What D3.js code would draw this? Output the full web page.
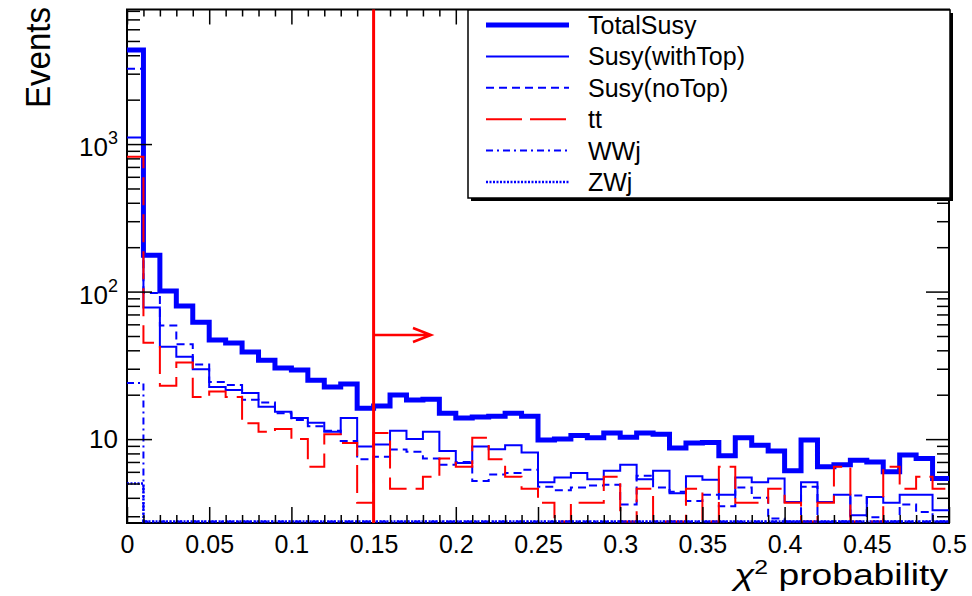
<!DOCTYPE html>
<html>
<head>
<meta charset="utf-8">
<script src="https://cdn.jsdelivr.net/npm/d3@7"></script>
<style>
  body { margin: 0; background: #fff; }
  svg { display: block; font-family: "Liberation Sans", Arial, Helvetica, sans-serif; }
</style>
</head>
<body>
<div id="chart"></div>
<script>
// binning of the chi2 probability histograms
const xMin = 0, xMax = 0.5, nBins = 50;
const yMin = 2.7, yMax = 8170;
const cutValue = 0.15;

const xMajorTicks = [0, 0.05, 0.1, 0.15, 0.2, 0.25, 0.3, 0.35, 0.4, 0.45, 0.5];
const xTickLabels = ["0", "0.05", "0.1", "0.15", "0.2", "0.25", "0.3", "0.35", "0.4", "0.45", "0.5"];
const yMajorTicks = [10, 100, 1000];
const yTickLabels = [["10", ""], ["10", "2"], ["10", "3"]];

const seriesNames = ["TotalSusy", "Susy(withTop)", "Susy(noTop)", "tt", "WWj", "ZWj"];

const totalSusy = [4350, 176, 101, 80, 62, 47, 44.8, 39, 34.3, 30.3,
  29.4, 25.1, 22.6, 23.6, 16.2, 16.8, 19.9, 18.4, 18.6, 15,
  13.9, 14.1, 14.3, 15, 14.3, 9.85, 10, 10.6, 10.2, 11,
  10.3, 11, 10.8, 8.7, 9.4, 9.5, 7.7, 10.2, 9.1, 8.3,
  6.1, 9.85, 6.5, 6.7, 7.2, 7.0, 6.0, 7.8, 7.4, 5.4];

const susyWithTop = [1110, 78, 42.3, 36.1, 29.8, 22.6, 21.5, 20.5, 16.6, 15.3,
  13.9, 12.9, 11.2, 13.9, 8.9, 9.2, 11.4, 10, 11.2, 8.3,
  6.9, 8.9, 8.55, 9.1, 8.1, 5.1, 5.5, 5.9, 5.35, 6.1,
  6.7, 5.35, 6.1, 4.3, 5.6, 5.3, 4.2, 5.5, 5.1, 5.4,
  3.75, 5.1, 3.75, 4.2, 3.05, 4.05, 3.7, 4.2, 4.2, 3.3];

const susyNoTop = [3240, 98, 59, 44, 32, 24.4, 23.3, 18.5, 17.7, 15,
  13.5, 12.2, 11.4, 9.7, 7.3, 7.6, 8.5, 8.2, 7.4, 6.7,
  7.0, 5.2, 5.75, 5.9, 6.2, 4.75, 4.5, 4.7, 4.85, 4.9,
  3.6, 5.65, 4.7, 4.4, 3.8, 4.2, 3.5, 4.7, 4.0, 2.9,
  2.35, 4.75, 2.75, 2.5, 4.15, 2.95, 2.3, 3.6, 3.2, 2.1];

const ttbar = [820, 45, 23, 33, 19.3, 21, 19.3, 12.8, 11.2, 11.7,
  10, 6.5, 10.8, 9.4, 3.7, 11, 4.6, 4.6, 5.55, 7.4,
  6.5, 10.2, 7.3, 5.55, 4.6, 3.7, 1.85, 3.7, 3.7, 5.55,
  1.85, 4.6, 1.85, 1.85, 4.6, 1.85, 6.5, 3.7, 3.7, 4.6,
  3.7, 1.85, 3.7, 6.5, 1.85, 1.85, 6.5, 4.6, 5.55, 4.6];

const wwj = [24, 0, 0, 0, 0, 0, 0, 0, 0, 0,
  0, 0, 0, 0, 0, 0, 0, 0, 0, 0,
  0, 0, 0, 0, 0, 0, 0, 0, 0, 0,
  0, 0, 0, 0, 0, 0, 0, 0, 0, 0,
  0, 0, 0, 0, 0, 0, 0, 0, 0, 0];

const zwj = [5, 0, 0, 0, 0, 0, 0, 0, 0, 0,
  0, 0, 0, 0, 0, 0, 0, 0, 0, 0,
  0, 0, 0, 0, 0, 0, 0, 0, 0, 0,
  0, 0, 0, 0, 0, 0, 0, 0, 0, 0,
  0, 0, 0, 0, 0, 0, 0, 0, 0, 0];

const W = 972, H = 596;
const plotLeft = 127, plotRight = 949, plotTop = 9.5, plotBottom = 523;

const svg = d3.select("#chart").append("svg")
  .attr("width", W)
  .attr("height", H);

const x = d3.scaleLinear().domain([xMin, xMax]).range([plotLeft, plotRight]);
const y = d3.scaleLog().domain([yMin, yMax]).range([plotBottom, plotTop]);

// line styles, one per series
const series = [
  {name: seriesNames[0], values: totalSusy, color: "#0000ff", w: 5, dash: null},
  {name: seriesNames[1], values: susyWithTop, color: "#0000ff", w: 2, dash: null},
  {name: seriesNames[2], values: susyNoTop, color: "#0000ff", w: 2, dash: "8,5"},
  {name: seriesNames[3], values: ttbar, color: "#ff0000", w: 2, dash: "28,9"},
  {name: seriesNames[4], values: wwj, color: "#0000ff", w: 2, dash: "7,4,2,4"},
  {name: seriesNames[5], values: zwj, color: "#0000ff", w: 2.5, dash: "2,1.5"}
];

// frame first, histograms drawn over it (underflow sits on the bottom edge)
svg.append("rect")
  .attr("x", plotLeft).attr("y", plotTop)
  .attr("width", plotRight - plotLeft).attr("height", plotBottom - plotTop)
  .attr("fill", "none").attr("stroke", "#000").attr("stroke-width", 2);

svg.append("clipPath").attr("id", "plotclip")
  .append("rect")
  .attr("x", plotLeft).attr("y", plotTop)
  .attr("width", plotRight - plotLeft).attr("height", plotBottom - plotTop);

function histPath(vals) {
  const bw = (xMax - xMin) / nBins;
  const p = d3.path();
  vals.forEach(function (v, i) {
    const x0 = x(xMin + i * bw), x1 = x(xMin + (i + 1) * bw);
    const yy = v < yMin ? plotBottom - 1.5 : y(v);
    if (i === 0) p.moveTo(x0, yy); else p.lineTo(x0, yy);
    p.lineTo(x1, yy);
  });
  return p.toString();
}

const plot = svg.append("g").attr("clip-path", "url(#plotclip)");
plot.selectAll("path.hist")
  .data(series)
  .enter()
  .append("path")
  .attr("class", "hist")
  .attr("d", function (d) { return histPath(d.values); })
  .attr("fill", "none")
  .attr("stroke", function (d) { return d.color; })
  .attr("stroke-width", function (d) { return d.w; })
  .attr("stroke-dasharray", function (d) { return d.dash; });

// axes: ticks on all four sides, pointing inwards
const xMinor = x.ticks(50).filter(function (d) { return xMajorTicks.every(function (m) { return Math.abs(m - d) > 1e-9; }); });
const yMinor = y.ticks().filter(function (d) { return yMajorTicks.indexOf(d) < 0; });

function styleAxis(g) {
  g.select(".domain").remove();
  g.selectAll(".tick line").attr("stroke", "#000").attr("stroke-width", 1.5);
}

svg.append("g").attr("transform", "translate(0," + plotBottom + ")")
  .call(d3.axisBottom(x).tickValues(xMajorTicks).tickSize(-16).tickPadding(12)
    .tickFormat(function (d, i) { return xTickLabels[i]; }))
  .call(styleAxis)
  .selectAll("text")
  .attr("font-size", 25)
  .attr("font-family", "Liberation Sans, Arial, sans-serif")
  .attr("fill", "#000");
svg.append("g").attr("transform", "translate(0," + plotBottom + ")")
  .call(d3.axisBottom(x).tickValues(xMinor).tickSize(-8).tickFormat(""))
  .call(styleAxis);
svg.append("g").attr("transform", "translate(0," + plotTop + ")")
  .call(d3.axisTop(x).tickValues(xMajorTicks).tickSize(-15).tickFormat(""))
  .call(styleAxis);
svg.append("g").attr("transform", "translate(0," + plotTop + ")")
  .call(d3.axisTop(x).tickValues(xMinor).tickSize(-7).tickFormat(""))
  .call(styleAxis);

svg.append("g").attr("transform", "translate(" + plotLeft + ",0)")
  .call(d3.axisLeft(y).tickValues(yMajorTicks).tickSize(-25).tickFormat(""))
  .call(styleAxis);
svg.append("g").attr("transform", "translate(" + plotLeft + ",0)")
  .call(d3.axisLeft(y).tickValues(yMinor).tickSize(-13).tickFormat(""))
  .call(styleAxis);
svg.append("g").attr("transform", "translate(" + plotRight + ",0)")
  .call(d3.axisRight(y).tickValues(yMajorTicks).tickSize(-23).tickFormat(""))
  .call(styleAxis);
svg.append("g").attr("transform", "translate(" + plotRight + ",0)")
  .call(d3.axisRight(y).tickValues(yMinor).tickSize(-12).tickFormat(""))
  .call(styleAxis);

// y labels with superscript exponents
const yl = svg.selectAll("text.ylab")
  .data(yMajorTicks)
  .enter()
  .append("text")
  .attr("class", "ylab")
  .attr("x", 118)
  .attr("y", function (d, i) { return y(d) + (yTickLabels[i][1] ? 12 : 9); })
  .attr("text-anchor", "end")
  .attr("font-size", 26)
  .text(function (d, i) { return yTickLabels[i][0]; });
yl.append("tspan")
  .attr("font-size", 18)
  .attr("dy", -12)
  .text(function (d, i) { return yTickLabels[i][1]; });

// axis titles
svg.append("text")
  .attr("transform", "translate(50,7) rotate(-90)")
  .attr("text-anchor", "end")
  .attr("font-size", 35)
  .attr("textLength", 101)
  .attr("lengthAdjust", "spacingAndGlyphs")
  .text("Events");

const xt = svg.append("text")
  .attr("x", 948).attr("y", 585)
  .attr("text-anchor", "end")
  .attr("font-size", 30)
  .attr("textLength", 214)
  .attr("lengthAdjust", "spacingAndGlyphs");
xt.append("tspan").attr("font-style", "italic").text("χ");
xt.append("tspan").attr("font-size", 20).attr("dy", -11).text("2");
xt.append("tspan").attr("dy", 11).text(" probability");

// cut line with arrow
svg.append("line")
  .attr("x1", x(cutValue)).attr("x2", x(cutValue))
  .attr("y1", plotTop).attr("y2", plotBottom)
  .attr("stroke", "#ff0000").attr("stroke-width", 3);
const ay = 335, ax1 = x(cutValue), ax2 = 431;
svg.append("path")
  .attr("d", "M" + ax1 + "," + ay + "H" + ax2 + "M" + (ax2 - 18) + "," + (ay - 7) + "L" + ax2 + "," + ay + "L" + (ax2 - 18) + "," + (ay + 7))
  .attr("fill", "none").attr("stroke", "#ff0000").attr("stroke-width", 2.5);

// legend box with shadow
const lg = svg.append("g");
lg.append("rect")
  .attr("x", 471).attr("y", 13).attr("width", 482).attr("height", 188)
  .attr("fill", "#000");
lg.append("rect")
  .attr("x", 468).attr("y", 10).attr("width", 482).attr("height", 188)
  .attr("fill", "#fff").attr("stroke", "#000").attr("stroke-width", 1.5);

const rowY = d3.scalePoint().domain(seriesNames).range([25, 182]);
const entry = lg.selectAll("g.entry")
  .data(series)
  .enter()
  .append("g")
  .attr("class", "entry")
  .attr("transform", function (d) { return "translate(0," + rowY(d.name) + ")"; });
entry.append("line")
  .attr("x1", 486).attr("x2", 569)
  .attr("stroke", function (d) { return d.color; })
  .attr("stroke-width", function (d) { return d.w; })
  .attr("stroke-dasharray", function (d) { return d.dash === "28,9" ? "36,8" : d.dash; });
entry.append("text")
  .attr("x", 588).attr("y", 9)
  .attr("font-size", 25)
  .text(function (d) { return d.name; });
</script>
</body>
</html>
